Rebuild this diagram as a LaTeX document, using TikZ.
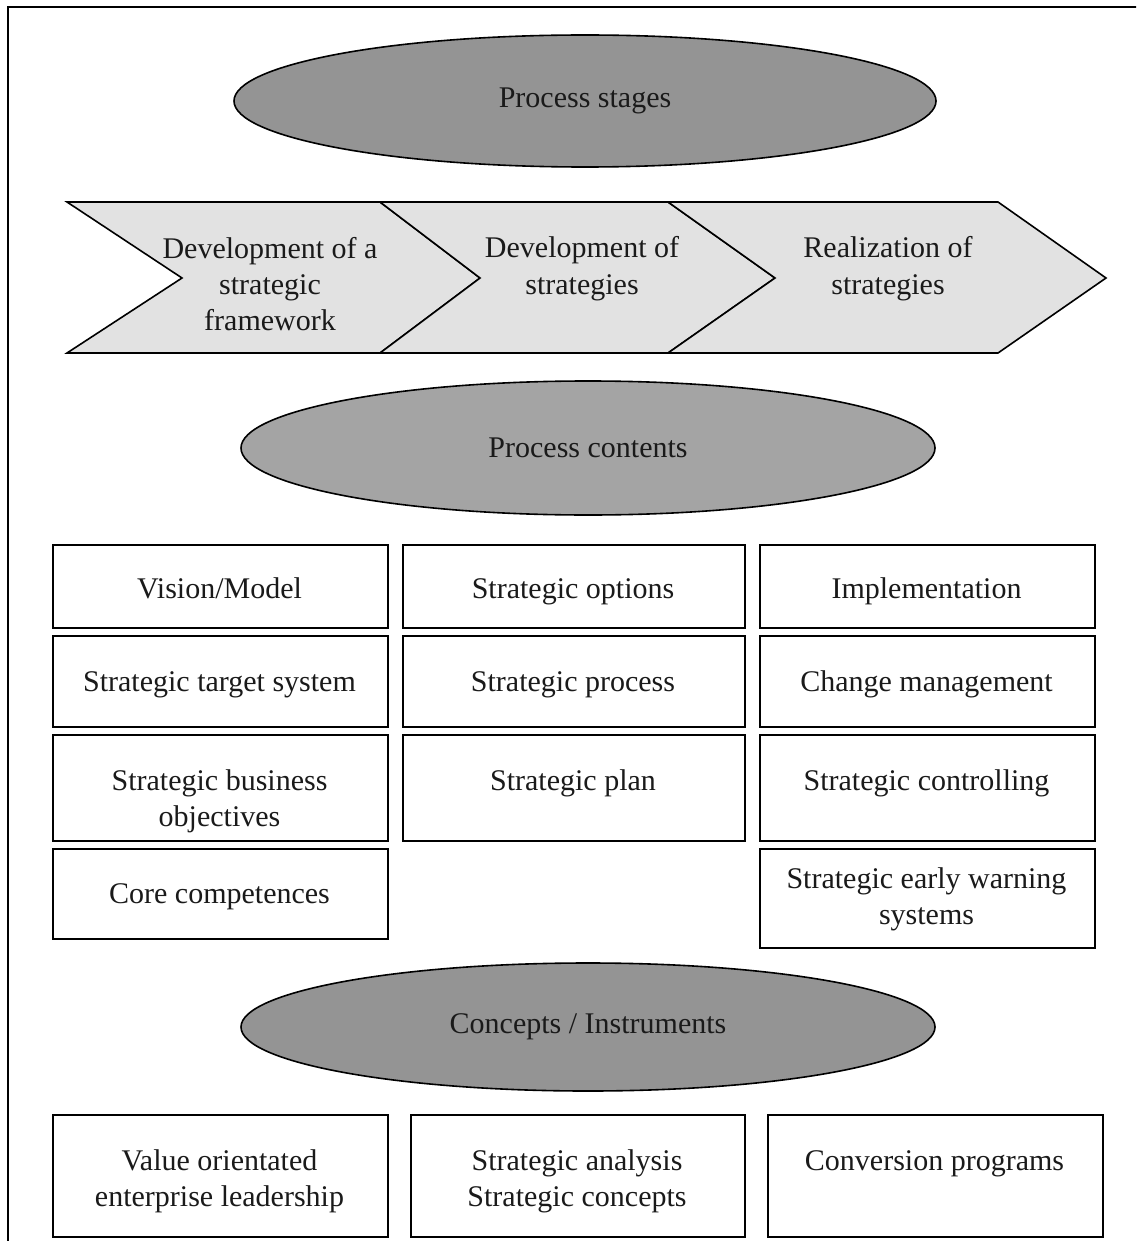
\documentclass[tikz,border=0pt]{standalone}
\usepackage{fontspec}
\setmainfont{Liberation Serif}
\usetikzlibrary{shapes.geometric}
\definecolor{ink}{HTML}{1A1A1A}
\definecolor{ovalgray}{HTML}{949494}
\definecolor{arrowgray}{HTML}{E2E2E2}
\begin{document}
\begin{tikzpicture}[x=1pt,y=-1pt,
  txt/.style={font=\fontsize{30}{36}\selectfont, text=ink, align=center, inner sep=0pt, anchor=base},
  oval/.style={ellipse, draw=black, line width=1.6pt, fill=ovalgray, inner sep=0pt,
    font=\fontsize{30}{36}\selectfont, text=ink},
  cell/.style={draw=black, line width=2.2pt, inner sep=0pt, anchor=north west, fill=white},
  chev/.style={draw=black, line width=1.6pt, fill=arrowgray, line join=miter}]
\useasboundingbox (0,0) rectangle (1136,1241);
\fill[white] (0,0) rectangle (1136,1241);

% outer frame, running past the page on the right and bottom
\begin{scope}
  \clip (0,0) rectangle (1136,1241);
  \draw[line width=2.2pt] (8,7) rectangle (1160,1270);
\end{scope}

% ---- process stages ----
\node[oval, minimum width=702pt, minimum height=132pt] (stages) at (585,101) {Process stages};

% three chevrons
\draw[chev] (67,202) -- (380,202) -- (480,278) -- (380,353) -- (67,353) -- (182,278) -- cycle;
\draw[chev] (380,202) -- (668,202) -- (775,278) -- (668,353) -- (380,353) -- (480,278) -- cycle;
\draw[chev] (668,202) -- (998,202) -- (1106,278) -- (998,353) -- (668,353) -- (775,278) -- cycle;

% multi-line labels are placed by the baseline of their last line
\node[txt] (framework) at (270,330) {Development of a\\strategic\\framework};
\node[txt] (develop) at (582,294) {Development of\\strategies};
\node[txt] (realize) at (888,294) {Realization of\\strategies};

% ---- process contents ----
\node[oval, minimum width=694pt, minimum height=134pt, fill=ovalgray!85!white] (contents) at (588,448) {Process contents};

% column 1
\node[cell, minimum width=335pt, minimum height=83pt]  (c1r1) at (52,544) {};
\node[cell, minimum width=335pt, minimum height=91pt]  (c1r2) at (52,635) {};
\node[cell, minimum width=335pt, minimum height=106pt] (c1r3) at (52,734) {};
\node[cell, minimum width=335pt, minimum height=90pt]  (c1r4) at (52,848) {};
\node[txt] (vision) at (219.5,598) {Vision/Model};
\node[txt] (target) at (219.5,691) {Strategic target system};
\node[txt] (objectives) at (219.5,826) {Strategic business\\objectives};
\node[txt] (core) at (219.5,903) {Core competences};

% column 2
\node[cell, minimum width=342pt, minimum height=83pt]  (c2r1) at (402,544) {};
\node[cell, minimum width=342pt, minimum height=91pt]  (c2r2) at (402,635) {};
\node[cell, minimum width=342pt, minimum height=106pt] (c2r3) at (402,734) {};
\node[txt] (options) at (573,598) {Strategic options};
\node[txt] (sprocess) at (573,691) {Strategic process};
\node[txt] (splan) at (573,790) {Strategic plan};

% column 3
\node[cell, minimum width=335pt, minimum height=83pt]  (c3r1) at (759,544) {};
\node[cell, minimum width=335pt, minimum height=91pt]  (c3r2) at (759,635) {};
\node[cell, minimum width=335pt, minimum height=106pt] (c3r3) at (759,734) {};
\node[cell, minimum width=335pt, minimum height=99pt]  (c3r4) at (759,848) {};
\node[txt] (implement) at (926.5,598) {Implementation};
\node[txt] (change) at (926.5,691) {Change management};
\node[txt] (scontrol) at (926.5,790) {Strategic controlling};
\node[txt] (warning) at (926.5,924) {Strategic early warning\\systems};

% ---- concepts / instruments ----
\node[oval, minimum width=694pt, minimum height=128pt] (concepts) at (588,1027) {Concepts / Instruments};

\node[cell, minimum width=335pt, minimum height=122pt] (i1) at (52,1114) {};
\node[cell, minimum width=334pt, minimum height=122pt] (i2) at (410,1114) {};
\node[cell, minimum width=335pt, minimum height=122pt] (i3) at (767,1114) {};
\node[txt] (value) at (219.5,1206) {Value orientated\\enterprise leadership};
\node[txt] (analysis) at (577,1206) {Strategic analysis\\Strategic concepts};
\node[txt] (conversion) at (934.5,1170) {Conversion programs};
\end{tikzpicture}
\end{document}
